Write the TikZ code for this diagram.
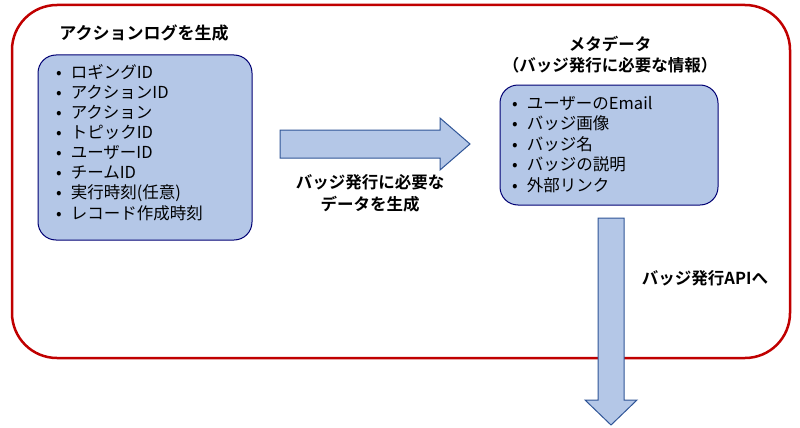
\documentclass[tikz,border=0pt]{standalone}
\usepackage{fontspec}
\setmainfont{Noto Sans CJK JP}[BoldFont={Noto Sans CJK JP Bold}]
\begin{document}
\begin{tikzpicture}[x=1pt,y=-1pt,
  box/.style={draw=blue!45!black,fill={rgb,255:red,180;green,199;blue,231},line width=1pt,rounded corners=18pt},
  arr/.style={draw={rgb,255:red,47;green,85;blue,151},fill={rgb,255:red,180;green,199;blue,231},line width=1pt},
  item/.style={anchor=west,font=\fontsize{16.5}{18}\selectfont,inner sep=0},
  ttl/.style={font=\bfseries\fontsize{17}{20}\selectfont,align=center}]
\useasboundingbox (0,0) rectangle (800,428);
\draw[draw={rgb,255:red,192;green,0;blue,0},line width=2.5pt,rounded corners=45pt] (12,5) rectangle (790,358);
\node[ttl] (t1) at (144,33) {アクションログを生成};
\node[box,minimum width=214pt,minimum height=185pt] (lb) at (145,147.5) {};
\foreach \t [count=\i] in {ロギングID,アクションID,アクション,トピックID,ユーザーID,チームID,実行時刻(任意),レコード作成時刻}{
  \node[item] (l\i) at (56,{72+(\i-1)*20.2}) {•\hspace{9pt}\t};}
\draw[arr] (280,130) -- (440,130) -- (440,118) -- (470,144) -- (440,170) -- (440,158) -- (280,158) -- cycle;
\node[ttl,font=\bfseries\fontsize{16.5}{22}\selectfont] (al) at (370,193) {バッジ発行に必要な\\データを生成};
\node[ttl,font=\bfseries\fontsize{16.5}{21}\selectfont] (t2) at (610,55) {メタデータ\\（バッジ発行に必要な情報）};
\node[box,minimum width=218pt,minimum height=120pt] (rb) at (609,145) {};
\foreach \t [count=\i] in {ユーザーのEmail,バッジ画像,バッジ名,バッジの説明,外部リンク}{
  \node[item] (r\i) at (512,{103+(\i-1)*20.5}) {•\hspace{9pt}\t};}
\draw[arr] (598,218) -- (624,218) -- (624,400) -- (637,400) -- (611,425) -- (585,400) -- (598,400) -- cycle;
\node[ttl,font=\bfseries\fontsize{16.5}{20}\selectfont] (dl) at (705,278) {バッジ発行APIへ};
\end{tikzpicture}
\end{document}
